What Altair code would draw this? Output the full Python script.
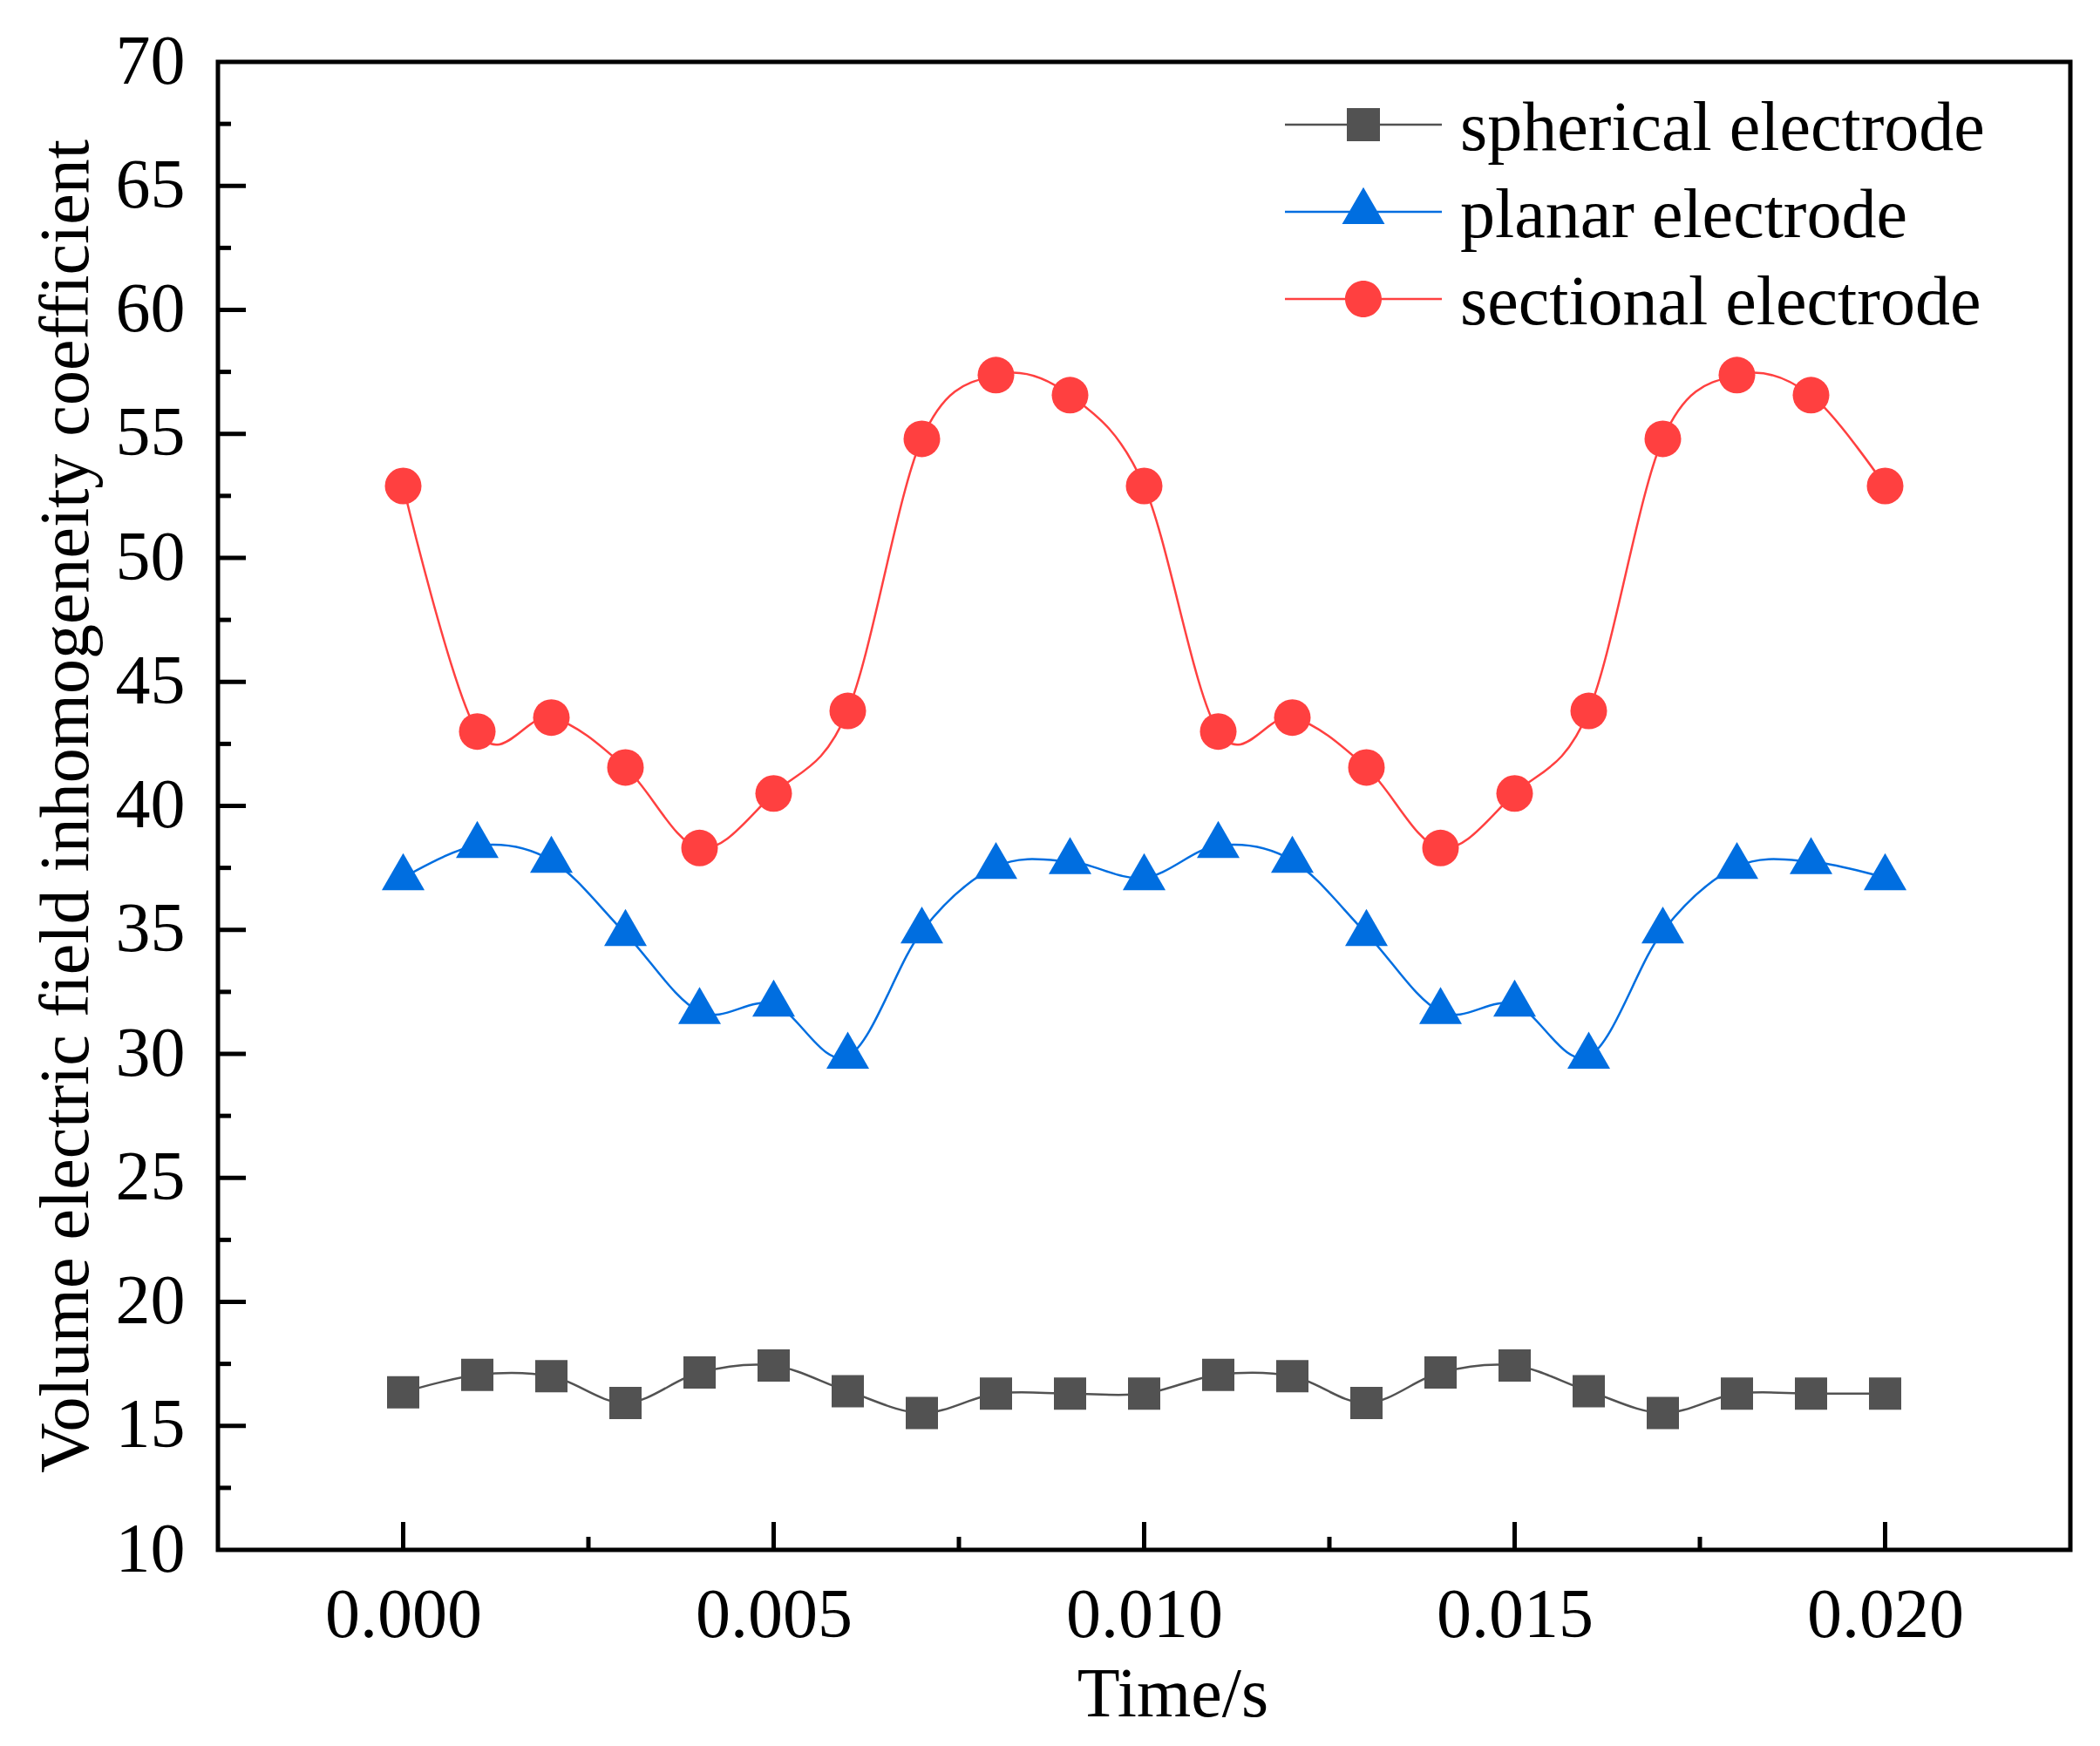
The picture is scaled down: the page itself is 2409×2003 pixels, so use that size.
import altair as alt
import pandas as pd

# values
time_s = [0.000, 0.001, 0.002, 0.003, 0.004, 0.005, 0.006, 0.007, 0.008, 0.009, 0.010,
          0.011, 0.012, 0.013, 0.014, 0.015, 0.016, 0.017, 0.018, 0.019, 0.020]
spherical = [16.35, 17.06, 17.0, 15.92, 17.15, 17.43, 16.4, 15.52, 16.3, 16.3, 16.3,
             17.06, 17.0, 15.92, 17.15, 17.43, 16.4, 15.52, 16.3, 16.3, 16.3]
planar = [37.1, 38.4, 37.8, 34.85, 31.7, 32.0, 29.9, 34.95, 37.55, 37.75, 37.1,
          38.4, 37.8, 34.85, 31.7, 32.0, 29.9, 34.95, 37.55, 37.75, 37.1]
sectional = [52.9, 43.0, 43.56, 41.55, 38.3, 40.5, 43.83, 54.8, 57.37, 56.56, 52.9,
             43.0, 43.56, 41.55, 38.3, 40.5, 43.83, 54.8, 57.37, 56.56, 52.9]

series_names = ["spherical electrode", "planar electrode", "sectional electrode"]
series_colors = ["#525252", "#006ee0", "#ff4040"]

x_major = [0.000, 0.005, 0.010, 0.015, 0.020]
x_minor = [0.0025, 0.0075, 0.0125, 0.0175]
y_major = [15, 20, 25, 30, 35, 40, 45, 50, 55, 60, 65]
y_minor = [12.5, 17.5, 22.5, 27.5, 32.5, 37.5, 42.5, 47.5, 52.5, 57.5, 62.5, 67.5]
y_labels = [10, 15, 20, 25, 30, 35, 40, 45, 50, 55, 60, 65, 70]

W, H = 2125, 1707
FONT = "Liberation Serif"

df = pd.concat([
    pd.DataFrame({"time": time_s, "value": vals, "series": name})
    for name, vals in zip(series_names, [spherical, planar, sectional])
])

# legend symbols: thin bar (the line) plus the marker, all filled; 1 unit = 10 px
BAR = "M-9,-0.62H9V-0.38H-9Z"
SQ_LEG = BAR + "M-1.9,-2.4H1.9V1.4H-1.9Z"
TRI_LEG = BAR + "M0,-3.33L2.45,0.91L-2.45,0.91Z"
CIR_LEG = BAR + "M-2.1,-0.5A2.1,2.1,0,1,1,2.1,-0.5A2.1,2.1,0,1,1,-2.1,-0.5Z"

# triangle centred on its centroid, like the original plotting program
TRI = "M0,-1.155L1,0.577L-1,0.577Z"

x_scale = alt.Scale(domain=[-0.0025, 0.0225], nice=False, zero=False)
y_scale = alt.Scale(domain=[10, 70], nice=False, zero=False)
color_scale = alt.Scale(domain=series_names, range=series_colors)

x_axis = alt.Axis(values=x_major, format=".3f", domain=False, ticks=False, grid=False,
                  labelFont=FONT, labelFontSize=80, labelColor="black", labelPadding=36,
                  labelFlush=False, labelOverlap=False, labelLimit=1000,
                  title="Time/s", titleFont=FONT, titleFontSize=80, titleFontWeight="normal",
                  titleColor="black", titleX=1095, titleY=190, titleBaseline="alphabetic",
                  titleAlign="center")
y_axis = alt.Axis(values=y_labels, format="d", domain=False, ticks=False, grid=False,
                  labelFont=FONT, labelFontSize=80, labelColor="black", labelPadding=38,
                  labelFlush=False, labelOverlap=False, labelLimit=1000,
                  title="Volume electric field inhomogeneity coefficient", titleFont=FONT,
                  titleFontSize=80, titleFontWeight="normal", titleColor="black",
                  titleX=-150, titleY=H / 2, titleAngle=270, titleBaseline="alphabetic",
                  titleAlign="center", titleLimit=3000)

legend = alt.Legend(
    title=None, orient="none", legendX=1274, legendY=37, direction="vertical",
    padding=0, symbolSize=400, symbolStrokeWidth=0, symbolOpacity=1,
    labelFont=FONT, labelFontSize=80, labelColor="black", labelOffset=71,
    labelLimit=2000, rowPadding=20,
)


def xy():
    return dict(x=alt.X("time:Q", scale=x_scale, axis=x_axis),
                y=alt.Y("value:Q", scale=y_scale, axis=y_axis))


marker_specs = [("square", 1369), (TRI, 2401), ("circle", 1764)]
lines, points = [], []
for name, col, (shp, sz) in zip(series_names, series_colors, marker_specs):
    sub = alt.Chart(df).transform_filter(alt.datum.series == name)
    lines.append(sub.mark_line(interpolate="cardinal", strokeWidth=2.5, color=col).encode(**xy()))
    points.append(
        sub.mark_point(shape=shp, size=sz, filled=True, opacity=1, color=col, strokeWidth=0)
        .encode(**xy())
    )

# empty layer that only carries the legend (line + marker symbols)
legend_layer = alt.Chart(df).transform_filter("false").mark_point(
    filled=True, size=400, opacity=1, strokeWidth=0
).encode(
    color=alt.Color("series:N", scale=color_scale, legend=legend),
    shape=alt.Shape("series:N", scale=alt.Scale(domain=series_names,
                                                range=[SQ_LEG, TRI_LEG, CIR_LEG]),
                    legend=legend),
    **xy(),
)

# inward ticks
tick_style = dict(color="black", strokeWidth=5)
ymaj = alt.Chart(pd.DataFrame({"value": y_major})).mark_rule(**tick_style).encode(
    y=alt.Y("value:Q", scale=y_scale, axis=y_axis), x=alt.value(0), x2=alt.value(32))
ymin = alt.Chart(pd.DataFrame({"value": y_minor})).mark_rule(**tick_style).encode(
    y=alt.Y("value:Q", scale=y_scale, axis=y_axis), x=alt.value(0), x2=alt.value(15))
xmaj = alt.Chart(pd.DataFrame({"time": x_major})).mark_rule(**tick_style).encode(
    x=alt.X("time:Q", scale=x_scale, axis=x_axis), y=alt.value(H), y2=alt.value(H - 32))
xmin = alt.Chart(pd.DataFrame({"time": x_minor})).mark_rule(**tick_style).encode(
    x=alt.X("time:Q", scale=x_scale, axis=x_axis), y=alt.value(H), y2=alt.value(H - 15))

chart = alt.layer(legend_layer, *lines, *points, ymaj, ymin, xmaj, xmin).properties(
    width=W, height=H,
    autosize=alt.AutoSizeParams(type="none"),
    padding={"left": 242, "top": 63, "right": 20, "bottom": 215},
).configure_view(stroke="black", strokeWidth=5)

chart.save("out.html", embed_options={"renderer": "svg", "actions": False})
